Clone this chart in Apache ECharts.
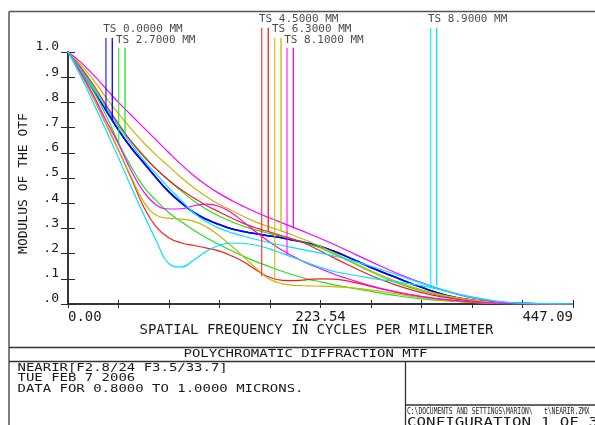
<!DOCTYPE html>
<html><head><meta charset="utf-8">
<script src="https://cdn.jsdelivr.net/npm/echarts@6/dist/echarts.min.js"></script>
<style>html,body{margin:0;padding:0;background:#fff;}#c{width:595px;height:425px;}</style>
</head><body><div id="c"></div>
<script>
// Spatial frequency samples (cycles/mm)
const freq = [0, 11.18, 22.35, 33.53, 44.71, 55.89, 67.06, 78.24, 89.42, 100.60, 111.77, 122.95, 134.13, 145.31, 156.48, 167.66, 178.84, 190.02, 201.19, 212.37, 223.55, 234.72, 245.90, 268.25, 290.61, 312.96, 335.32, 357.68, 380.03, 402.39, 424.74, 447.09];
const xTickLabels = ['0.00', '', '', '', '', '223.54', '', '', '', '', '447.09'];
const yTickLabels = ['.0', '.1', '.2', '.3', '.4', '.5', '.6', '.7', '.8', '.9', '1.0'];

// MTF curves (T = tangential, S = sagittal) per field
const mtf00T = [1.0,0.93,0.85,0.77,0.69,0.62,0.56,0.50,0.445,0.40,0.362,0.335,0.315,0.298,0.287,0.278,0.27,0.262,0.252,0.241,0.228,0.21,0.19,0.145,0.105,0.066,0.034,0.015,0.006,0.002,0,0];
const mtf00S = [1.0,0.93,0.85,0.77,0.69,0.62,0.56,0.50,0.445,0.40,0.362,0.335,0.315,0.298,0.287,0.278,0.27,0.262,0.252,0.241,0.228,0.21,0.19,0.145,0.105,0.066,0.034,0.015,0.006,0.002,0,0];
const mtf27T = [1.0,0.925,0.845,0.75,0.64,0.545,0.465,0.41,0.362,0.325,0.292,0.262,0.235,0.21,0.187,0.166,0.147,0.129,0.113,0.099,0.088,0.077,0.068,0.05,0.033,0.02,0.012,0.007,0.003,0.001,0,0];
const mtf27S = [1.0,0.935,0.86,0.78,0.71,0.645,0.59,0.535,0.49,0.447,0.408,0.375,0.348,0.326,0.307,0.292,0.279,0.267,0.254,0.239,0.222,0.2,0.177,0.128,0.085,0.052,0.028,0.013,0.005,0.001,0,0];
const mtf45T = [1.0,0.915,0.82,0.715,0.61,0.50,0.385,0.305,0.262,0.242,0.232,0.222,0.21,0.19,0.165,0.132,0.105,0.094,0.093,0.097,0.1,0.099,0.093,0.07,0.046,0.028,0.015,0.007,0.003,0.001,0,0];
const mtf45S = [1.0,0.94,0.87,0.79,0.715,0.645,0.585,0.535,0.49,0.452,0.42,0.39,0.365,0.34,0.318,0.3,0.285,0.27,0.255,0.235,0.21,0.185,0.16,0.113,0.075,0.045,0.025,0.012,0.004,0.001,0,0];
const mtf63T = [1.0,0.915,0.82,0.715,0.61,0.505,0.405,0.352,0.34,0.337,0.328,0.305,0.27,0.228,0.183,0.137,0.097,0.08,0.074,0.072,0.071,0.069,0.066,0.056,0.04,0.025,0.013,0.006,0.002,0.001,0,0];
const mtf63S = [1.0,0.95,0.89,0.82,0.755,0.695,0.64,0.59,0.545,0.5,0.46,0.425,0.395,0.37,0.345,0.323,0.305,0.288,0.27,0.25,0.228,0.205,0.18,0.132,0.09,0.056,0.032,0.016,0.006,0.002,0,0];
const mtf81T = [1.0,0.92,0.83,0.73,0.635,0.53,0.445,0.393,0.377,0.378,0.39,0.396,0.387,0.36,0.322,0.282,0.245,0.212,0.185,0.16,0.14,0.12,0.103,0.072,0.048,0.03,0.017,0.008,0.003,0.001,0,0];
const mtf81S = [1.0,0.96,0.91,0.855,0.80,0.75,0.70,0.65,0.60,0.552,0.508,0.47,0.438,0.41,0.385,0.362,0.341,0.321,0.301,0.281,0.26,0.238,0.215,0.168,0.123,0.085,0.05,0.024,0.009,0.002,0,0];
const mtf89T = [1.0,0.905,0.80,0.69,0.58,0.465,0.355,0.25,0.16,0.147,0.176,0.21,0.233,0.242,0.24,0.232,0.218,0.2,0.182,0.163,0.145,0.13,0.12,0.103,0.088,0.073,0.05,0.027,0.011,0.003,0.001,0];
const mtf89S = [1.0,0.93,0.855,0.78,0.705,0.635,0.57,0.515,0.46,0.41,0.36,0.325,0.30,0.282,0.268,0.255,0.243,0.232,0.222,0.212,0.202,0.191,0.179,0.15,0.117,0.083,0.052,0.027,0.011,0.003,0.001,0];

// Field legend markers
const tsLabels = ['TS 0.0000 MM', 'TS 2.7000 MM', 'TS 4.5000 MM', 'TS 6.3000 MM', 'TS 8.1000 MM', 'TS 8.9000 MM'];
const tsFreqT = [33.6, 44.9, 171.5, 183.0, 193.9, 321.1];
const tsFreqS = [39.2, 50.5, 177.3, 188.6, 199.5, 326.4];
const tsBottomT = [0.77, 0.635, 0.11, 0.085, 0.195, 0.069];
const tsBottomS = [0.73, 0.675, 0.288, 0.288, 0.30, 0.072];
const tsTop = [1.056, 1.017, 1.096, 1.056, 1.017, 1.096];
const tsLabelY = [1.09, 1.046, 1.129, 1.09, 1.046, 1.129];

const fieldT = [mtf00T, mtf27T, mtf45T, mtf63T, mtf81T, mtf89T];
const fieldS = [mtf00S, mtf27S, mtf45S, mtf63S, mtf81S, mtf89S];
const fieldColors = ['#0000ff', '#22e022', '#ff1a1a', '#c8b800', '#ff00ff', '#00e0ff'];

const MONO = 'DejaVu Sans Mono';
const TXT = '#1a1a1a';
const series = [];
for (let i = 0; i < 6; i++) {
  [fieldT[i], fieldS[i]].forEach(arr => {
    series.push({
      type: 'line', smooth: 0.45, showSymbol: false, silent: true,
      lineStyle: { color: fieldColors[i], width: i === 0 ? 1.6 : 1.2 },
      data: freq.map((f, k) => [f, arr[k]])
    });
  });
}
for (let i = 0; i < 6; i++) {
  series.push({
    type: 'line', showSymbol: false, silent: true, clip: false,
    lineStyle: { color: fieldColors[i], width: 1.3, opacity: 0.8 },
    data: [[tsFreqT[i], tsBottomT[i]], [tsFreqT[i], tsTop[i]]]
  });
  series.push({
    type: 'line', showSymbol: false, silent: true, clip: false,
    lineStyle: { color: fieldColors[i], width: 1.3 },
    data: [[tsFreqS[i], tsBottomS[i]], [tsFreqS[i], tsTop[i]]]
  });
}
series.push({
  type: 'scatter', silent: true, clip: false, symbol: 'rect', symbolSize: 1,
  itemStyle: { color: 'transparent' },
  data: tsLabels.map((t, i) => ({ value: [tsFreqT[i], tsLabelY[i]], name: t })),
  label: {
    show: true, position: 'inside', align: 'left', verticalAlign: 'middle', offset: [-2.8, 0],
    formatter: p => p.name, fontFamily: MONO, fontSize: 11, color: TXT
  }
});

const axisLine = { show: true, lineStyle: { color: '#2a2a2a', width: 1.5 } };
const chart = echarts.init(document.getElementById('c'), null, { renderer: 'canvas' });
chart.setOption({
  animation: false,
  backgroundColor: '#fff',
  grid: { left: 68, right: 22, top: 52, bottom: 121 },
  xAxis: [{
    type: 'value', min: 0, max: 447.09, interval: 44.709, position: 'bottom',
    axisLine, splitLine: { show: false },
    axisTick: { inside: true, length: 4, lineStyle: { color: '#2a2a2a' } },
    axisLabel: {
      margin: 6, fontFamily: MONO, fontSize: 14, color: TXT,
      alignMinLabel: 'left', alignMaxLabel: 'right',
      formatter: v => xTickLabels[Math.round(v / 44.709)] || ''
    },
    name: 'SPATIAL FREQUENCY IN CYCLES PER MILLIMETER', nameLocation: 'middle', nameGap: 19,
    nameMoveOverlap: false,
    nameTextStyle: { fontFamily: MONO, fontSize: 14, color: TXT, padding: [0, 8, 0, 0] }
  }, {
    type: 'value', min: 0, max: 447.09, interval: 44.709, position: 'top',
    axisLine, splitLine: { show: false }, axisLabel: { show: false },
    axisTick: { inside: true, length: 4, lineStyle: { color: '#2a2a2a' } }
  }],
  yAxis: [{
    type: 'value', min: 0, max: 1, interval: 0.1, position: 'left',
    axisLine, splitLine: { show: false },
    axisTick: { inside: true, length: 7, lineStyle: { color: '#2a2a2a' } },
    axisLabel: {
      margin: 9, fontFamily: MONO, fontSize: 13, color: TXT, verticalAlign: 'bottom',
      lineHeight: 10,
      formatter: v => yTickLabels[Math.round(v * 10)]
    },
    name: 'MODULUS OF THE OTF', nameLocation: 'middle', nameRotate: 90, nameGap: 44,
    nameMoveOverlap: false,
    nameTextStyle: { fontFamily: MONO, fontSize: 13, color: TXT, verticalAlign: 'middle', padding: [0, 11, 0, 0] }
  }, {
    type: 'value', min: 0, max: 1, interval: 0.1, position: 'right',
    axisLine, splitLine: { show: false }, axisLabel: { show: false },
    axisTick: { inside: true, length: 7, lineStyle: { color: '#2a2a2a' } }
  }],
  series,
  graphic: { elements: [
    { type: 'line', silent: true, shape: { x1: 9, y1: 11.5, x2: 9, y2: 425 }, style: { stroke: '#555', lineWidth: 1.5 } },
    { type: 'line', silent: true, shape: { x1: 9, y1: 11.5, x2: 595, y2: 11.5 }, style: { stroke: '#555', lineWidth: 1.5 } },
    { type: 'line', silent: true, shape: { x1: 9, y1: 347.5, x2: 595, y2: 347.5 }, style: { stroke: '#333', lineWidth: 1.3 } },
    { type: 'line', silent: true, shape: { x1: 9, y1: 361.5, x2: 595, y2: 361.5 }, style: { stroke: '#333', lineWidth: 1.3 } },
    { type: 'line', silent: true, shape: { x1: 405.5, y1: 361.5, x2: 405.5, y2: 425 }, style: { stroke: '#333', lineWidth: 1.3 } },
    { type: 'line', silent: true, shape: { x1: 405.5, y1: 405, x2: 595, y2: 405 }, style: { stroke: '#333', lineWidth: 1.3 } },
    { type: 'text', silent: true, x: 305.5, y: 354.5, scaleX: 1.27,
      style: { text: 'POLYCHROMATIC DIFFRACTION MTF', font: '11px "DejaVu Sans Mono"', fill: TXT, align: 'center', verticalAlign: 'middle', textAlign: 'center', textVerticalAlign: 'middle' } },
    { type: 'text', silent: true, x: 17.5, y: 368, scaleX: 1.27,
      style: { text: 'NEARIR[F2.8/24 F3.5/33.7]', font: '11px "DejaVu Sans Mono"', fill: TXT, align: 'left', verticalAlign: 'middle', textAlign: 'left', textVerticalAlign: 'middle' } },
    { type: 'text', silent: true, x: 17.5, y: 378.5, scaleX: 1.27,
      style: { text: 'TUE FEB 7 2006', font: '11px "DejaVu Sans Mono"', fill: TXT, align: 'left', verticalAlign: 'middle', textAlign: 'left', textVerticalAlign: 'middle' } },
    { type: 'text', silent: true, x: 17.5, y: 389, scaleX: 1.27,
      style: { text: 'DATA FOR 0.8000 TO 1.0000 MICRONS.', font: '11px "DejaVu Sans Mono"', fill: TXT, align: 'left', verticalAlign: 'middle', textAlign: 'left', textVerticalAlign: 'middle' } },
    { type: 'text', silent: true, x: 407, y: 411.5, scaleX: 0.79,
      style: { text: 'C:\\DOCUMENTS AND SETTINGS\\MARION\\   t\\NEARIR.ZMX', font: '8px "DejaVu Sans Mono"', fill: TXT, align: 'left', verticalAlign: 'middle', textAlign: 'left', textVerticalAlign: 'middle' } },
    { type: 'text', silent: true, x: 407, y: 422.5, scaleX: 1.22,
      style: { text: 'CONFIGURATION 1 OF 3', font: '13px "DejaVu Sans Mono"', fill: TXT, align: 'left', verticalAlign: 'middle', textAlign: 'left', textVerticalAlign: 'middle' } }
  ] }
});
</script></body></html>
